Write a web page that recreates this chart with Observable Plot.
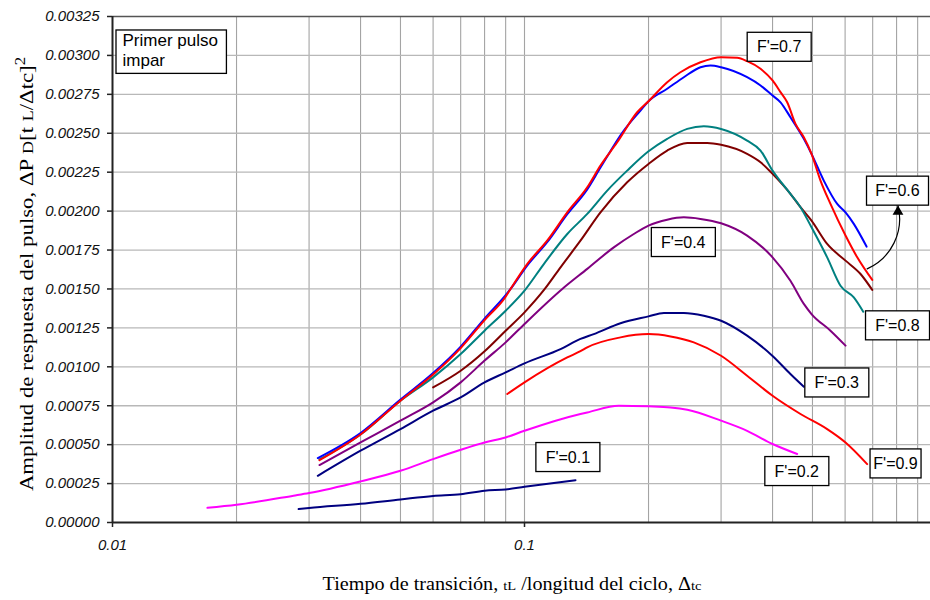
<!DOCTYPE html>
<html><head><meta charset="utf-8">
<script src="https://cdn.jsdelivr.net/npm/d3@7"></script>
<script src="https://cdn.jsdelivr.net/npm/@observablehq/plot@0.6"></script>
<style>
body{margin:0;background:#fff;}
#chart{width:930px;height:600px;}
</style></head><body><div id="chart"></div>
<script>
// ---- data ----
const xF01 = [0.0283, 0.03, 0.04, 0.05, 0.06, 0.07, 0.08, 0.09, 0.1, 0.133];
const yF01 = [0.000086, 0.000093, 0.00012, 0.000148, 0.00017, 0.000181, 0.000204, 0.000212, 0.000229, 0.000272];

const xF02 = [0.017, 0.02, 0.0275, 0.03, 0.04, 0.05, 0.06, 0.07, 0.08, 0.09, 0.1, 0.1367, 0.142, 0.1694, 0.2, 0.2262, 0.2483, 0.3, 0.347, 0.4, 0.459];
const yF02 = [0.0000945, 0.000114, 0.000172, 0.000189, 0.000264, 0.000332, 0.000407, 0.000467, 0.000514, 0.000546, 0.000589, 0.000697, 0.000707, 0.00075, 0.000746, 0.000739, 0.000724, 0.000654, 0.000589, 0.000504, 0.00044];

const xF03 = [0.0315, 0.04, 0.05, 0.06, 0.07, 0.08, 0.09, 0.1, 0.1223, 0.1367, 0.1473, 0.171, 0.2, 0.2179, 0.2436, 0.2724, 0.3, 0.347, 0.4, 0.442, 0.4764];
const yF03 = [0.0003, 0.000461, 0.0006, 0.000718, 0.000803, 0.0009, 0.000964, 0.001022, 0.001114, 0.001179, 0.00121, 0.00128, 0.001324, 0.001346, 0.001346, 0.001328, 0.001296, 0.0012, 0.00107, 0.000954, 0.000872];

const xF04 = [0.0318, 0.04, 0.05, 0.06, 0.07, 0.08, 0.09, 0.1, 0.1235, 0.142, 0.1647, 0.1842, 0.2, 0.222, 0.2436, 0.2674, 0.3, 0.347, 0.4, 0.442, 0.4764, 0.4973, 0.5529, 0.6014];
const yF04 = [0.000369, 0.000514, 0.000654, 0.000771, 0.0009, 0.00104, 0.001157, 0.001275, 0.0015, 0.001629, 0.001767, 0.001853, 0.001907, 0.001945, 0.00196, 0.00195, 0.001922, 0.001843, 0.001703, 0.001553, 0.001404, 0.001339, 0.001232, 0.001136];

const xF05 = [0.06, 0.07, 0.08, 0.09, 0.1, 0.112, 0.1223, 0.1367, 0.1529, 0.1775, 0.2, 0.222, 0.2483, 0.2674, 0.2777, 0.3, 0.347, 0.374, 0.4, 0.442, 0.4676, 0.4973, 0.5428, 0.6014, 0.6541, 0.6983];
const yF05 = [0.000868, 0.000975, 0.0011, 0.001232, 0.00135, 0.0015, 0.001639, 0.00181, 0.001992, 0.002185, 0.002303, 0.002389, 0.002438, 0.002438, 0.002438, 0.002426, 0.002368, 0.002314, 0.002239, 0.002111, 0.002025, 0.001939, 0.001789, 0.001682, 0.001596, 0.001494];

const xF06 = [0.0315, 0.04, 0.05, 0.06, 0.07, 0.08, 0.09, 0.0925, 0.1015, 0.1135, 0.127, 0.142, 0.1529, 0.1742, 0.1912, 0.2, 0.222, 0.2436, 0.2674, 0.2828, 0.3, 0.347, 0.374, 0.4, 0.4182, 0.442, 0.4764, 0.4973, 0.5326, 0.5741, 0.6014, 0.6299, 0.6765];
const yF06 = [0.000414, 0.000575, 0.00079, 0.00096, 0.00113, 0.00131, 0.00146, 0.0015, 0.00165, 0.0018, 0.00198, 0.00214, 0.00228, 0.002517, 0.002646, 0.002706, 0.002786, 0.00286, 0.002924, 0.002935, 0.002924, 0.00286, 0.002807, 0.002742, 0.002699, 0.002603, 0.002464, 0.002368, 0.002196, 0.002046, 0.001992, 0.001918, 0.001772];

const xF07 = [0.0318, 0.04, 0.05, 0.06, 0.07, 0.08, 0.09, 0.0925, 0.1015, 0.1135, 0.127, 0.142, 0.1529, 0.1679, 0.1877, 0.2, 0.222, 0.239, 0.2674, 0.3, 0.3282, 0.347, 0.374, 0.4, 0.4182, 0.4341, 0.4547, 0.4764, 0.4973, 0.5229, 0.5529, 0.6014, 0.6421, 0.6983];
const yF07 = [0.0004, 0.000565, 0.000782, 0.00095, 0.00112, 0.0013, 0.00145, 0.0015, 0.00166, 0.00181, 0.001992, 0.002153, 0.002293, 0.002442, 0.002635, 0.002706, 0.002828, 0.002892, 0.002956, 0.002989, 0.002985, 0.002963, 0.002914, 0.002839, 0.002764, 0.002699, 0.00256, 0.002474, 0.002368, 0.002196, 0.002046, 0.001843, 0.001703, 0.001558];

const xF08 = [0.0318, 0.04, 0.05, 0.06, 0.07, 0.08, 0.09, 0.1, 0.1114, 0.127, 0.142, 0.1588, 0.1775, 0.2, 0.222, 0.2483, 0.2724, 0.3, 0.347, 0.374, 0.4, 0.442, 0.4676, 0.4973, 0.5428, 0.5848, 0.6299, 0.6641];
const yF08 = [0.000405, 0.000565, 0.000782, 0.000932, 0.001082, 0.001232, 0.00136, 0.001489, 0.00166, 0.001853, 0.001982, 0.002132, 0.00226, 0.002384, 0.002464, 0.002528, 0.002545, 0.002528, 0.002453, 0.002389, 0.00226, 0.002111, 0.002025, 0.001896, 0.001703, 0.001521, 0.001446, 0.001354];

const xF09 = [0.0908, 0.1, 0.127, 0.1367, 0.142, 0.171, 0.2, 0.2262, 0.2576, 0.3, 0.347, 0.4, 0.4676, 0.5428, 0.6014, 0.6787];
const yF09 = [0.000825, 0.0009, 0.00106, 0.0011, 0.001125, 0.001189, 0.00121, 0.001195, 0.001157, 0.001071, 0.000943, 0.000814, 0.000697, 0.0006, 0.000514, 0.000375];

// drawing order and colours
const seriesNames  = ["F'=0.1", "F'=0.2", "F'=0.3", "F'=0.4", "F'=0.5", "F'=0.8", "F'=0.6", "F'=0.7", "F'=0.9"];
const seriesColors = ["#000080", "#ff00ff", "#000080", "#800080", "#800000", "#008080", "#0000ff", "#ff0000", "#ff0000"];
const seriesX = [xF01, xF02, xF03, xF04, xF05, xF08, xF06, xF07, xF09];
const seriesY = [yF01, yF02, yF03, yF04, yF05, yF08, yF06, yF07, yF09];

// annotation labels
const labelText = ["F'=0.7", "F'=0.6", "F'=0.8", "F'=0.4", "F'=0.3", "F'=0.9", "F'=0.2", "F'=0.1"];
const labelX = [0.415, 0.804, 0.804, 0.2429, 0.5727, 0.7952, 0.458, 0.1274];
const labelY = [0.003053, 0.002129, 0.001264, 0.001799, 0.000897, 0.000377, 0.000328, 0.000418];
const labelBoxWidth = [64, 62, 64, 64, 64, 51, 64, 64];

const arrowX1 = [0.6787], arrowY1 = [0.001629], arrowX2 = [0.8063], arrowY2 = [0.002035];

// axes
const xTicks = [0.01, 0.1];
const xGrid = [0.02, 0.03, 0.04, 0.05, 0.06, 0.07, 0.08, 0.09, 0.1, 0.2, 0.3, 0.4, 0.5, 0.6, 0.7, 0.8, 0.9];
const yTicks = [0, 0.00025, 0.0005, 0.00075, 0.001, 0.00125, 0.0015, 0.00175, 0.002, 0.00225, 0.0025, 0.00275, 0.003, 0.00325];
const xDomain = [0.01, 0.967];
const yDomain = [0, 0.00325];
const noteText = "Primer pulso\nimpar";

// ---- build ----
const rows = seriesNames.flatMap((name, k) =>
  seriesX[k].map((x, i) => ({name: name + "#" + k, color: seriesColors[k], x, y: seriesY[k][i]})));
const labels = labelText.map((t, i) => ({t, x: labelX[i], y: labelY[i]}));
const arrows = arrowX1.map((x1, i) => ({x1, y1: arrowY1[i], x2: arrowX2[i], y2: arrowY2[i]}));

const sans = "'Liberation Sans', Arial, sans-serif";
const serif = "'Liberation Serif', 'Times New Roman', serif";

const plot = Plot.plot({
  width: 930, height: 600,
  marginLeft: 112, marginRight: 0, marginTop: 16, marginBottom: 78,
  style: {fontFamily: sans, background: "#fff"},
  x: {type: "log", domain: xDomain},
  y: {domain: yDomain},
  color: {type: "identity"},
  marks: [
    Plot.gridX(xGrid, {stroke: "#a4a4a4", strokeOpacity: 1, strokeWidth: 1.1}),
    Plot.gridY(yTicks.slice(1, -1), {stroke: "#b8b8b8", strokeOpacity: 1, strokeWidth: 1.3}),
    Plot.ruleY([yDomain[1]], {stroke: "#555", strokeWidth: 1.5}),
    Plot.axisX(xTicks, {tickSize: 5, tickPadding: 12, tickFormat: d => String(d), fontSize: 15, fontStyle: "italic", stroke: "#222", strokeWidth: 1.5, color: "#111"}),
    Plot.axisY(yTicks, {tickSize: 5, tickPadding: 8, tickFormat: d3.format(".5f"), fontSize: 15, fontStyle: "italic", stroke: "#222", strokeWidth: 1.5, color: "#111"}),
    Plot.line(rows, {x: "x", y: "y", z: "name", stroke: "color", strokeWidth: 2, strokeLinejoin: "round", curve: "monotone-x"}),
    Plot.ruleX([xDomain[0]], {stroke: "#222", strokeWidth: 2}),
    Plot.ruleY([yDomain[0]], {stroke: "#222", strokeWidth: 2}),
    Plot.arrow(arrows, {x1: "x1", y1: "y1", x2: "x2", y2: "y2", bend: -40, stroke: "#000", strokeWidth: 1.2, headLength: 0}),
    Plot.dot(arrows, {x: "x2", y: "y2", symbol: "triangle", r: 4, fill: "#000", stroke: null, dy: 6}),
    Plot.text(labels, {x: "x", y: "y", text: "t", fontSize: 16, fill: "#000"}),
    Plot.text([noteText], {frameAnchor: "top-left", dx: 10, dy: 15, textAnchor: "start", lineAnchor: "top", lineHeight: 1.2, fontSize: 17, fill: "#000"})
  ]
});

document.getElementById("chart").appendChild(plot);
const svg = d3.select(plot);
const svgBox = plot.getBoundingClientRect();

// white boxes with a black border behind the annotation texts
function boxBehind(textNode, x, y, w, h) {
  const g = textNode.parentNode;
  const rect = document.createElementNS("http://www.w3.org/2000/svg", "rect");
  g.parentNode.insertBefore(rect, g);
  d3.select(rect).attr("x", x).attr("y", y).attr("width", w).attr("height", h)
    .attr("fill", "#fff").attr("stroke", "#000").attr("stroke-width", 1.3);
}
svg.selectAll("text").each(function() {
  const s = this.textContent;
  const r = this.getBoundingClientRect();
  const left = r.left - svgBox.left, top = r.top - svgBox.top;
  const k = labelText.indexOf(s);
  if (k >= 0) {
    const cx = left + r.width / 2, cy = top + r.height / 2;
    const w = labelBoxWidth[k];
    boxBehind(this, cx - w / 2, cy - 14.5, w, 29);
  } else if (s.startsWith("Primer")) {
    boxBehind(this, left - 6.5, top - 1, r.width + 15, r.height + 4);
  }
});

// axis titles
const xt = svg.append("text").attr("transform", "translate(512,590) scale(1.12,1)").attr("text-anchor", "middle")
  .attr("font-family", serif).attr("font-size", 18).attr("fill", "#000");
xt.append("tspan").text("Tiempo de transición, ");
xt.append("tspan").attr("font-size", 13).text("tL");
xt.append("tspan").text(" /longitud del ciclo, Δ");
xt.append("tspan").attr("font-size", 13).text("tc");

const yt = svg.append("text").attr("transform", "translate(33,274) rotate(-90) scale(1.2,1)").attr("text-anchor", "middle")
  .attr("font-family", serif).attr("font-size", 19).attr("fill", "#000");
yt.append("tspan").text("Amplitud de respuesta del pulso, ΔP ");
yt.append("tspan").attr("font-size", 15).text("D");
yt.append("tspan").text("[t ");
yt.append("tspan").attr("font-size", 15).text("L");
yt.append("tspan").text("/Δtc]");
yt.append("tspan").attr("font-size", 14).attr("dy", -8).text("2");
</script></body></html>
